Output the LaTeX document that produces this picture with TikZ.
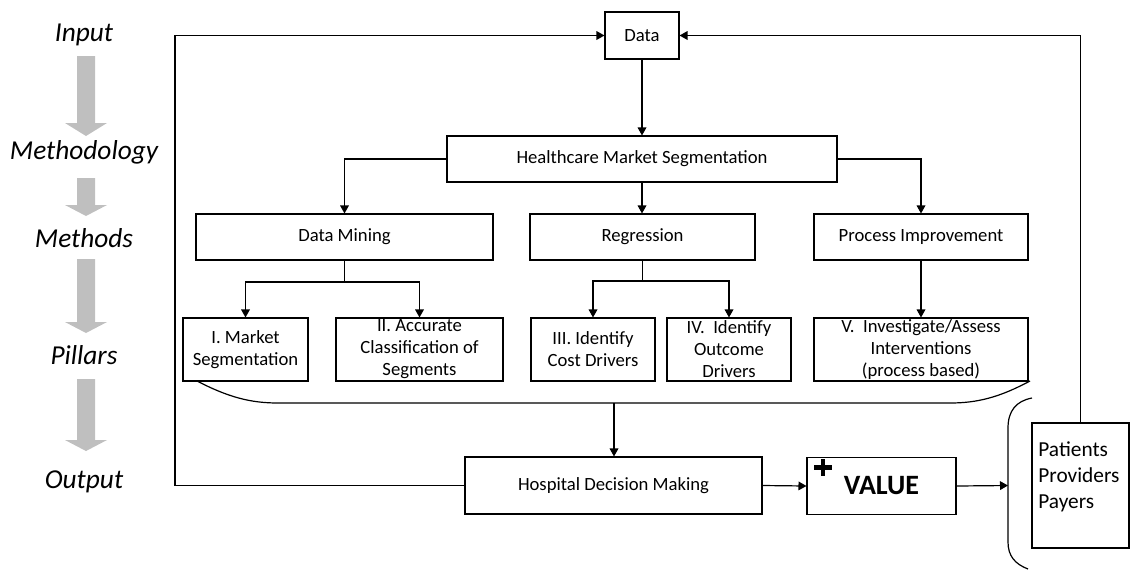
\documentclass[tikz,border=0pt]{standalone}
\usepackage{fontspec}
\setmainfont{Carlito}
\usetikzlibrary{arrows.meta}
\begin{document}
\begin{tikzpicture}[x=0.75pt,y=-0.75pt,
  box/.style={draw, line width=0.8pt, inner sep=0pt, align=center,
    font=\fontsize{14}{16.5}\selectfont},
  link/.style={line width=0.9pt, -{Triangle[length=6pt,width=6.5pt]}},
  wire/.style={line width=0.9pt},
  stage/.style={font=\fontsize{20.5}{22}\selectfont\itshape},
  flowarrow/.style={fill=black!25, draw=none},
  plusbar/.style={line width=3.6pt}
]
\useasboundingbox (0,0) rectangle (1130,569);

% stage labels and grey flow arrows on the left
\node[stage] (sInput) at (84,35) {Input};
\node[stage] (sMethodology) at (84,152) {Methodology};
\node[stage] (sMethods) at (84,238) {Methods};
\node[stage] (sPillars) at (84,355) {Pillars};
\node[stage] (sOutput) at (84,482) {Output};
\foreach \top/\neck/\tip in {56/123/136, 178/205/216, 259/322/333, 379/440/451}
  \fill[flowarrow] (77,\top) -- (95,\top) -- (95,\neck) -- (107,\neck)
    -- (86,\tip) -- (65,\neck) -- (77,\neck) -- cycle;

% boxes
\node[box, minimum width=55.5pt, minimum height=35.25pt] (data) at (642,35.5) {Data};
\node[box, minimum width=292.5pt, minimum height=34.5pt] (hms) at (642,159) {Healthcare Market Segmentation};
\node[box, minimum width=222.75pt, minimum height=34.5pt] (dm) at (344.5,237) {Data Mining};
\node[box, minimum width=168.75pt, minimum height=34.5pt] (reg) at (642.5,237) {Regression};
\node[box, minimum width=160.5pt, minimum height=34.5pt] (pi) at (921,237) {Process Improvement};
\node[box, minimum width=93.75pt, minimum height=47.25pt] (p1) at (245.5,349.5) {I. Market\\Segmentation};
\node[box, minimum width=125.25pt, minimum height=47.25pt] (p2) at (419.5,349.5) {II. Accurate\\Classification of\\Segments};
\node[box, minimum width=93pt, minimum height=47.25pt] (p3) at (593,349.5) {III. Identify\\Cost Drivers};
\node[box, minimum width=93pt, minimum height=47.25pt] (p4) at (729,349.5) {IV.\ \ Identify\\Outcome\\Drivers};
\node[box, minimum width=160.5pt, minimum height=47.25pt] (p5) at (921,349.5) {V.\ \ Investigate/Assess\\Interventions\\(process based)};
\node[box, minimum width=222.75pt, minimum height=42.75pt] (hdm) at (613.5,485.5) {Hospital Decision Making};
\node[box, minimum width=111.75pt, minimum height=42.75pt,
  font=\fontsize{21}{24}\selectfont\bfseries] (val) at (881.5,486) {VALUE};
\coordinate (plus) at (823,467.5);
\draw[plusbar] (plus) ++(-9,0) -- ++(18,0);
\draw[plusbar] (plus) ++(0,-8.5) -- ++(0,17);
\node[box, minimum width=72.75pt, minimum height=93.75pt,
  label={[anchor=north west, align=left, inner sep=0pt,
    font=\fontsize{16}{19.5}\selectfont, xshift=5pt, yshift=-14pt]north west:Patients\\Providers\\Payers}]
  (stake) at (1080.5,485.5) {};

% top-down flow
\draw[link] (data.south) -- (hms.north);
\draw[link] (hms.west) -| (dm.north);
\draw[link] (hms.south) -- (hms.south |- reg.north);
\draw[link] (hms.east) -| (pi.north);

\coordinate (dmfork) at (344.5,282);
\draw[wire] (dm.south) -- (dmfork);
\draw[link] (dmfork) -| (p1.north);
\draw[link] (dmfork) -| (p2.north);

\coordinate (regfork) at (642.5,281);
\draw[wire] (reg.south) -- (regfork);
\draw[link] (regfork) -| (p3.north);
\draw[link] (regfork) -| (p4.north);

\draw[link] (pi.south) -- (p5.north);

% brace gathering the pillars
\coordinate (bl) at (197,381);
\coordinate (br) at (1030,381);
\coordinate (bmid) at (614,403);
\draw[wire] (bl) .. controls (228,397) and (250,403) .. (278,403) -- (950,403)
  .. controls (978,403) and (1000,397) .. (br);
\draw[link] (bmid) -- (bmid |- hdm.north);

% output row
\draw[link] (hdm.east) -- (val.west);
\coordinate (cap) at (1008,485.5);
\draw[link] (val.east) -- (cap);
\draw[wire] (1032,398) .. controls (1016,401) and (1008,411) .. (1008,428) -- (1008,542)
  .. controls (1008,556) and (1015,564) .. (1028,569);

% feedback loops back to the data
\coordinate (lc) at (175,485.5);
\draw[link] (hdm.west) -- (lc) |- (data.west);
\draw[link] (stake.north) |- (data.east);
\end{tikzpicture}
\end{document}
